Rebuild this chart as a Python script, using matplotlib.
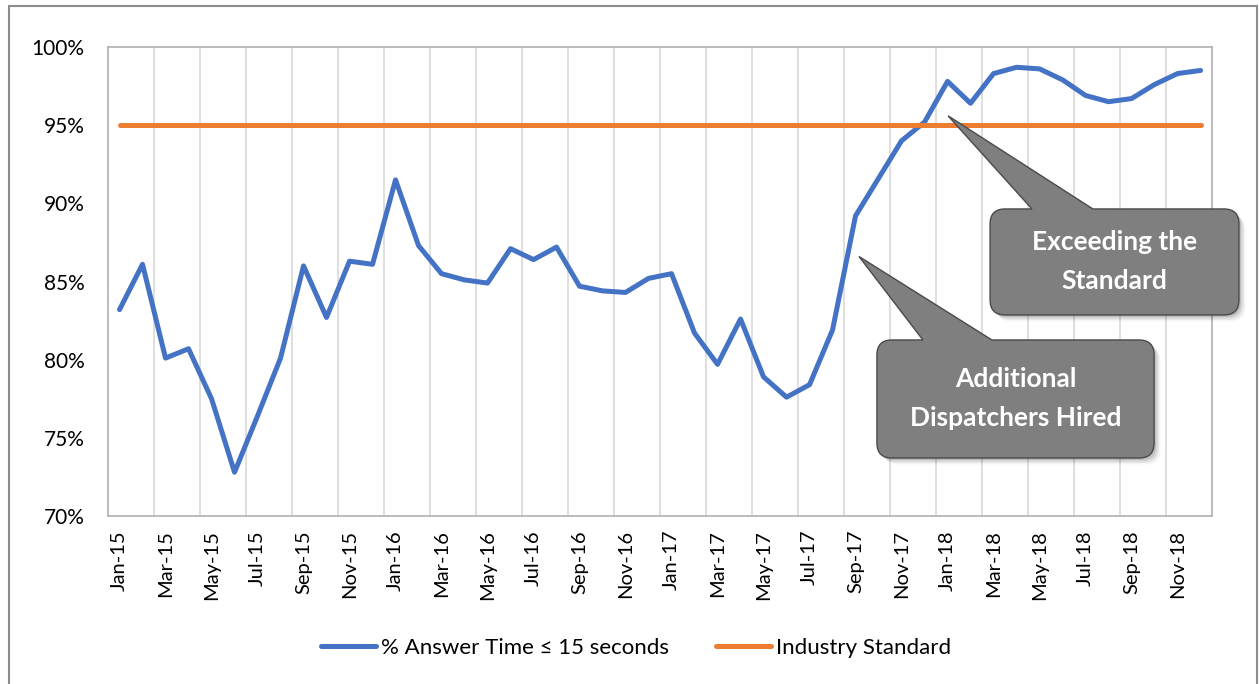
import numpy as np
import pandas as pd
import matplotlib
matplotlib.use('Agg')
import matplotlib.pyplot as plt
from matplotlib.path import Path
from matplotlib.patches import PathPatch, Rectangle
from matplotlib import transforms

plt.rcParams['font.family'] = ['Lato', 'DejaVu Sans']

# Monthly data, Jan-15 .. Dec-18
months = pd.date_range('2015-01-01', periods=48, freq='MS').strftime('%b-%y').tolist()
answer_pct = [83.2, 86.1, 80.1, 80.7, 77.5, 72.8, 76.4, 80.1, 86.0, 82.7, 86.3, 86.1,
              91.5, 87.3, 85.5, 85.1, 84.9, 87.1, 86.4, 87.2, 84.7, 84.4, 84.3, 85.2,
              85.5, 81.7, 79.7, 82.6, 78.9, 77.6, 78.4, 81.9, 89.2, 91.6, 94.0, 95.2,
              97.8, 96.4, 98.3, 98.7, 98.6, 97.9, 96.9, 96.5, 96.7, 97.6, 98.3, 98.5]
industry_std = [95] * 48

blue = '#4472C4'
orange = '#ED7D31'

fig = plt.figure(figsize=(12.59, 6.84), dpi=100)
ax = fig.add_axes([0.0858, 0.2456, 0.8769, 0.6857])

x = np.arange(len(months))
ax.plot(x, answer_pct, color=blue, lw=3.6, solid_capstyle='round', solid_joinstyle='round',
        label='% Answer Time ≤ 15 seconds', zorder=3)
ax.plot(x, industry_std, color=orange, lw=3.6, solid_capstyle='round',
        label='Industry Standard', zorder=4)

ax.set_xlim(-0.5, len(months) - 0.5)
ax.set_ylim(70, 100)
ax.set_yticks(range(70, 101, 5))
ax.set_yticklabels([f'{v}%' for v in range(70, 101, 5)], fontsize=15)
ax.set_xticks(x[::2])
ax.set_xticklabels(months[::2], rotation=90, fontsize=14.5)
ax.set_xticks(np.arange(1.5, len(months) - 1, 2), minor=True)
ax.grid(True, which='minor', axis='x', color='#d9d9d9', lw=1.2)
ax.tick_params(which='both', length=0)
ax.tick_params(axis='y', pad=17)
ax.tick_params(axis='x', pad=10)
for s in ax.spines.values():
    s.set_color('#b0b0b0')
    s.set_linewidth(1.2)

ax.legend(loc='center', bbox_to_anchor=(0.505, 0.0526), bbox_transform=fig.transFigure,
          ncol=2, frameon=False, fontsize=16, handlelength=2.5, handletextpad=0.2,
          columnspacing=2.1)


# callout shapes (rounded box + wedge), in data coordinates
def callout_path(x0, x1, ytop, ybot, bx0, bx1, tip, rx=0.65, ry=0.96):
    verts = [(x0 + rx, ytop), (bx0, ytop), tip, (bx1, ytop), (x1 - rx, ytop),
             (x1, ytop), (x1, ytop - ry),
             (x1, ybot + ry),
             (x1, ybot), (x1 - rx, ybot),
             (x0 + rx, ybot),
             (x0, ybot), (x0, ybot + ry),
             (x0, ytop - ry),
             (x0, ytop), (x0 + rx, ytop),
             (x0 + rx, ytop)]
    codes = [Path.MOVETO, Path.LINETO, Path.LINETO, Path.LINETO, Path.LINETO,
             Path.CURVE3, Path.CURVE3,
             Path.LINETO,
             Path.CURVE3, Path.CURVE3,
             Path.LINETO,
             Path.CURVE3, Path.CURVE3,
             Path.LINETO,
             Path.CURVE3, Path.CURVE3,
             Path.CLOSEPOLY]
    return Path(verts, codes)


callouts = [
    dict(box=(37.85, 48.67, 89.64, 82.86), base=(39.67, 42.32), tip=(36.02, 95.6),
         text='Exceeding the\nStandard'),
    dict(box=(32.93, 44.98, 81.26, 73.71), base=(34.93, 37.93), tip=(32.15, 86.6),
         text='Additional\nDispatchers Hired'),
]
for c in callouts:
    x0, x1, yt, yb = c['box']
    p = callout_path(x0, x1, yt, yb, c['base'][0], c['base'][1], c['tip'])
    # soft shadow
    for i, a in enumerate([0.10, 0.08, 0.06, 0.04]):
        off = transforms.offset_copy(ax.transData, fig=fig, x=2 + 1.5 * i, y=-(2 + 1.5 * i), units='dots')
        ax.add_patch(PathPatch(p, transform=off, facecolor='black', edgecolor='none',
                               alpha=a, clip_on=False, zorder=5))
    ax.add_patch(PathPatch(p, facecolor='#7f7f7f', edgecolor='#4a4a4a', lw=1.0,
                           clip_on=False, zorder=6))
    ax.text((x0 + x1) / 2, (yt + yb) / 2, c['text'], ha='center', va='center',
            color='white', fontsize=19, fontweight='bold', linespacing=1.75,
            zorder=7, clip_on=False)

# outer chart border
fig.patches.append(Rectangle((9 / 1259, -0.01), (1257 - 9) / 1259, 1.01 - 6 / 684,
                             transform=fig.transFigure, fill=False, edgecolor='#8c8c8c',
                             lw=1.5, zorder=0))

fig.savefig('out.png', dpi=100)
